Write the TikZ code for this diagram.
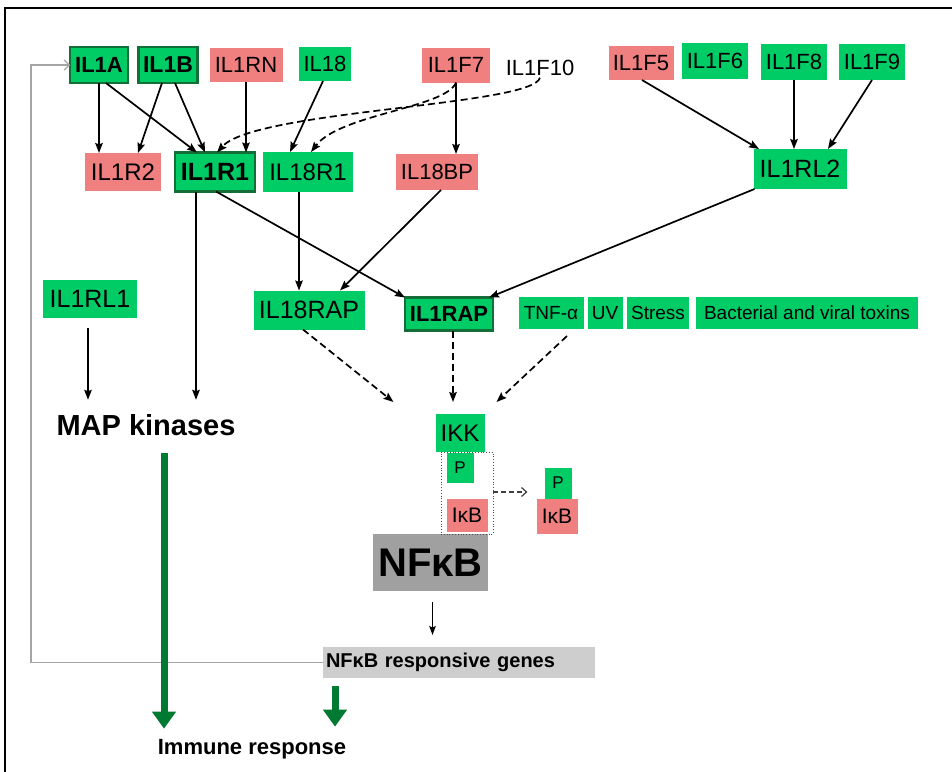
\documentclass[tikz,border=0pt]{standalone}
\usepackage{fontspec}
\setmainfont{Liberation Sans}
\usetikzlibrary{arrows.meta,calc}
\definecolor{gfill}{RGB}{0,204,102}
\definecolor{pfill}{RGB}{240,128,128}
\definecolor{gdark}{RGB}{20,110,55}
\definecolor{garrow}{RGB}{0,122,51}
\definecolor{nfgray}{RGB}{160,160,160}
\definecolor{genegray}{RGB}{206,206,206}
\definecolor{fbgray}{RGB}{165,165,165}
\newcommand\fsz[1]{\fontsize{#1}{#1}\selectfont}
\begin{document}
\begin{tikzpicture}[x=1pt,y=-1pt,
  box/.style={rectangle, inner sep=0pt, outer sep=0pt, font=\fsz{22}},
  sz/.style 2 args={minimum width=#1pt, minimum height=#2pt},
  gbox/.style={box, fill=gfill},
  rbox/.style={box, fill=pfill},
  bbox/.style={box, fill=gfill, draw=gdark, line width=2.5pt, font=\fsz{22}\bfseries},
  sbox/.style={gbox, font=\fsz{19}},
  arr/.style={line width=1.7pt, -{Stealth[length=10pt,width=7.5pt,inset=1.5pt]}},
  darr/.style={arr, dash pattern=on 7pt off 4pt},
  garr/.style={garrow, line width=7pt, -{Triangle[length=17pt,width=23pt]}}
]
\useasboundingbox (0,0) rectangle (952,771);
\fill[white] (0,0) rectangle (952,771);
\draw[line width=2pt] (5,790) -- (5,8) -- (970,8);

% row 1
\node[bbox, sz={58}{36}] (IL1A) at (99,65) {IL1A};
\node[bbox, sz={59}{36}, font=\fsz{23}\bfseries] (IL1B) at (168,65) {IL1B};
\node[rbox, sz={73}{34}] (IL1RN) at (246,65) {IL1RN};
\node[gbox, sz={52}{34}] (IL18) at (325,64) {IL18};
\node[rbox, sz={68}{35}] (IL1F7) at (456,65) {IL1F7};
\node[box] (IL1F10) at (540,68) {IL1F10};
\node[rbox, sz={65}{34}] (IL1F5) at (641,63) {IL1F5};
\node[gbox, sz={66}{36}] (IL1F6) at (715,61) {IL1F6};
\node[gbox, sz={66}{36}] (IL1F8) at (794,62) {IL1F8};
\node[gbox, sz={66}{36}] (IL1F9) at (872,62) {IL1F9};
% row 2
\node[rbox, sz={76}{38}, font=\fsz{24}] (IL1R2) at (123,172) {IL1R2};
\node[bbox, sz={80}{39}, font=\fsz{25}\bfseries] (IL1R1) at (215,172) {IL1R1};
\node[gbox, sz={90}{40}, font=\fsz{24}] (IL18R1) at (308,172) {IL18R1};
\node[rbox, sz={82}{36}] (IL18BP) at (437,172) {IL18BP};
\node[gbox, sz={93}{40}, font=\fsz{25}] (IL1RL2) at (800,169) {IL1RL2};
% row 3
\node[gbox, sz={94}{38}, font=\fsz{25}] (IL1RL1) at (90,299) {IL1RL1};
\node[gbox, sz={111}{39}, font=\fsz{25}] (IL18RAP) at (309,310) {IL18RAP};
\node[bbox, sz={88}{33}] (IL1RAP) at (449,314) {IL1RAP};
\node[sbox, sz={65}{32}] (TNF) at (551,313) {TNF-α};
\node[sbox, sz={35}{32}] (UV) at (605,313) {UV};
\node[sbox, sz={62}{32}] (Stress) at (658,313) {Stress};
\node[sbox, sz={222}{32}] (Bact) at (807,313) {Bacterial and viral toxins};

\node[anchor=base, inner sep=0pt, font=\fsz{29}\bfseries] (MAP) at (146,435) {MAP kinases};

\node[gbox, sz={49}{38}, font=\fsz{24}] (IKK) at (460,433) {IKK};
\node[box, fill=nfgray, sz={115}{57}, font=\fsz{40}\bfseries] (NFkB) at (430.5,562.5) {NFκB};
\node[draw=black!70, dotted, line width=0.8pt, sz={52}{82}, inner sep=0pt] (grp) at (467,493) {};
\node[gbox, sz={27}{30}, font=\fsz{17}] (P1) at (460,468) {P};
\node[rbox, sz={41}{33}, font=\fsz{21}] (IkB1) at (467,515) {IκB};
\node[gbox, sz={27}{31}, font=\fsz{17}] (P2) at (558,483) {P};
\node[rbox, sz={41}{35}, font=\fsz{21}] (IkB2) at (557,516) {IκB};

\node[box, fill=genegray, sz={272}{31}, text width=266pt, align=left, font=\fsz{20}\bfseries] (genes) at (459,662.5) {NFκB responsive genes};
\node[anchor=base, inner sep=0pt, font=\fsz{22}\bfseries] (imm) at (252,754) {Immune response};

% connectors row1 -> row2
\draw[arr] (IL1A.south) -- (IL1A.south |- IL1R2.north);
\draw[arr] ($(IL1A.south)+(7,0)$) -- ($(IL1R1.north)+(-18,0)$);
\draw[arr] ($(IL1B.south)+(-6,0)$) -- ($(IL1R2.north)+(15,0)$);
\draw[arr] ($(IL1B.south)+(7,0)$) -- ($(IL1R1.north)+(-10,0)$);
\draw[arr] (IL1RN.south) -- (IL1RN.south |- IL1R1.north);
\draw[arr] ($(IL18.south)+(-2,0)$) -- ($(IL18R1.north)+(-18,0)$);
\draw[arr] (IL1F7.south) -- (IL1F7.south |- IL18BP.north);
\draw[darr] (IL1F7.south) .. controls (446,108) and (340,114) .. ($(IL18R1.north)+(3,0)$);
\draw[darr] ($(IL1F10.south)+(0,2)$) .. controls (532,106) and (255,110) .. ($(IL1R1.north)+(2,0)$);
\draw[arr] ($(IL1F5.south)+(1,0)$) -- ($(IL1RL2.north)+(-41,0)$);
\draw[arr] (IL1F8.south) -- (IL1F8.south |- IL1RL2.north);
\draw[arr] (IL1F9.south) -- ($(IL1RL2.north)+(28,0)$);

% row2 -> row3
\coordinate (mapin) at ($(MAP.north)+(0,-14)$);
\coordinate (r1a) at ($(IL1R1.south)+(-19,0)$);
\draw[arr] (r1a) -- (r1a |- mapin);
\draw[arr] ($(IL1R1.south)+(1,0)$) -- (IL1RAP.north west);
\coordinate (r18a) at ($(IL18R1.south)+(-9,0)$);
\draw[arr] (r18a) -- (r18a |- IL18RAP.north);
\draw[arr] ($(IL18BP.south)+(4,0)$) -- ($(IL18RAP.north)+(31,0)$);
\draw[arr] ($(IL1RL2.south west)+(1,0)$) -- ($(IL1RAP.north east)+(-4,0)$);
\coordinate (rl1a) at ($(IL1RL1.south)+(-2,10)$);
\draw[arr] (rl1a) -- (rl1a |- mapin);

% to IKK
\coordinate (ikkin) at ($(IKK.north)+(0,-12)$);
\draw[darr] ($(IL18RAP.south)+(-6,0)$) -- ($(IKK.north west)+(-42,-12)$);
\coordinate (rapa) at ($(IL1RAP.south)+(4,0)$);
\draw[darr] (rapa) -- (rapa |- ikkin);
\draw[darr] ($(TNF.south)+(16,7)$) -- ($(IKK.north east)+(12,-12)$);

% IkB release
\draw[black!75, line width=1.2pt, dash pattern=on 5pt off 3pt, -{Straight Barb[length=5pt,width=9pt]}] ($(grp.east)+(0,-1)$) -- ++(34,0);

% NFkB -> genes
\coordinate (nfa) at ($(NFkB.south)+(2,11)$);
\coordinate (genin) at ($(genes.north)+(0,-12)$);
\draw[line width=1.4pt, -{Stealth[length=9pt,width=6.5pt,inset=1.5pt]}] (nfa) -- (nfa |- genin);

% feedback
\draw[fbgray, line width=1.2pt, -{Straight Barb[length=5pt,width=10pt]}] (genes.west) -| ($(IL1A.west)+(-39,0)$) -- (IL1A.west);

% immune response arrows
\coordinate (m1) at ($(MAP.south)+(18,18)$);
\coordinate (m2) at ($(imm.north)+(0,-10)$);
\draw[garr] (m1) -- (m1 |- m2);
\coordinate (g1) at ($(genes.south west)+(12,8)$);
\draw[garr] (g1) -- ($(g1 |- m2)+(0,-2)$);
\end{tikzpicture}
\end{document}
